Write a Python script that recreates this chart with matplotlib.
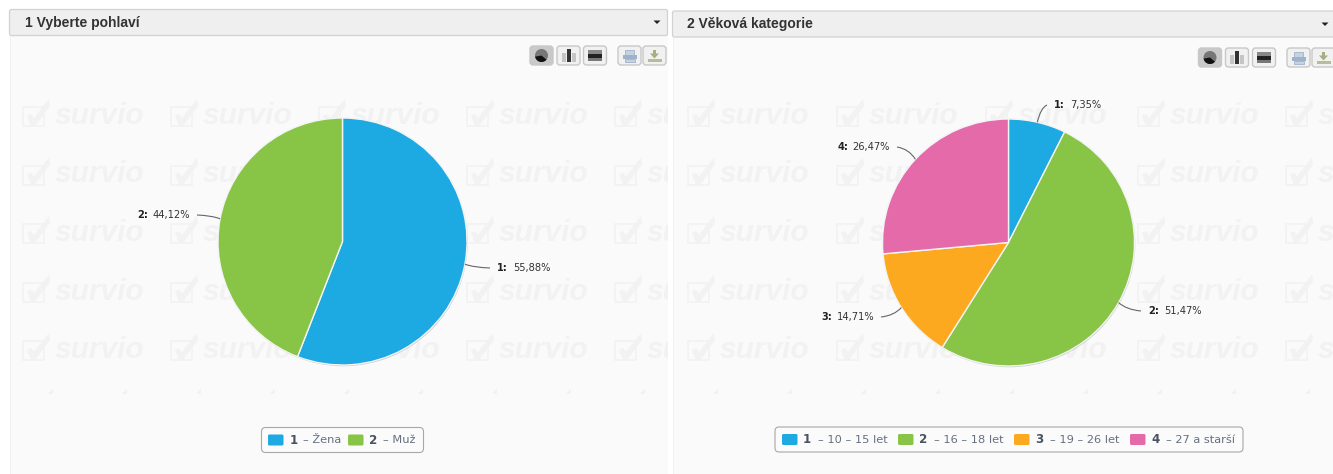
import matplotlib
matplotlib.use("Agg")
import matplotlib.pyplot as plt
from matplotlib.patches import Rectangle, FancyBboxPatch, Circle, Wedge, Polygon
from matplotlib.path import Path
from matplotlib.patches import PathPatch
import numpy as np

W, H = 1333, 474

# ---- data ----
titles = ["1 Vyberte pohlaví", "2 Věková kategorie"]
gender_values = [55.88, 44.12]
gender_labels = ["Žena", "Muž"]
age_values = [7.35, 51.47, 14.71, 26.47]
age_labels = ["10 – 15 let", "16 – 18 let", "19 – 26 let", "27 a starší"]
colors = ["#1DA9E1", "#88C546", "#FCA91F", "#E56AAA"]

fig = plt.figure(figsize=(W / 100, H / 100), dpi=100, facecolor="#ffffff")
bg = fig.add_axes([0, 0, 1, 1])
bg.set_xlim(0, W)
bg.set_ylim(H, 0)
bg.axis("off")

LATIN = "Liberation Sans"
VERD = "DejaVu Sans"
WM = "#f2f2f2"


def panel(x0, x1, head_top, head_bot, title, title_x):
    body = Rectangle((x0, head_bot), x1 - x0, H - head_bot, fc="#fafafa", ec="none", zorder=0)
    bg.add_patch(body)
    bg.plot([x0, x0], [head_bot, H], color="#f1f1f1", lw=0.8, zorder=0.5)
    head = FancyBboxPatch((x0, head_top), x1 - x0 + (6 if x1 >= W else 0), head_bot - head_top,
                          boxstyle="round,pad=0,rounding_size=2", fc="#efefef", ec="#d2d2d2", lw=0.9, zorder=3)
    bg.add_patch(head)
    bg.text(title_x, (head_top + head_bot) / 2 + 0.3, title, fontsize=10, fontweight="bold",
            family=LATIN, color="#333333", va="center", ha="left", zorder=4)
    return body


def watermarks(body, xs, ys):
    for y in ys:
        for x in xs:
            box = Rectangle((x + 1, y - 8), 21, 19, fc="none", ec=WM, lw=1.2, zorder=1)
            tick = Polygon([(x + 5, y + 1), (x + 9, y - 1), (x + 12, y + 3), (x + 27, y - 16),
                            (x + 28, y - 9), (x + 13, y + 11), (x + 9, y + 11)],
                           closed=True, fc=WM, ec="none", zorder=1)
            for p in (box, tick):
                bg.add_patch(p)
                p.set_clip_path(body)
            t = bg.text(x + 33, y + 1, "survio", fontsize=21.5, family=LATIN, fontweight="bold",
                        style="italic", color=WM, va="center", ha="left", zorder=1, clip_on=True)
            t.set_clip_path(body)


def faint_row(body, xs, y):
    for x in xs:
        t = bg.text(x, y, "◢", fontsize=4.5, family="DejaVu Sans", color="#f0f0f0",
                    ha="center", va="center", zorder=1, clip_on=True)
        t.set_clip_path(body)


def button(x, y, w=23, h=19, active=False, kind="pie"):
    bg.add_patch(FancyBboxPatch((x, y), w, h, boxstyle="round,pad=0,rounding_size=3",
                                fc="#c9c9c9" if active else "#f1f1f1", ec="#c8c8c8", lw=1, zorder=2))
    cx, cy = x + w / 2, y + h / 2
    if kind == "pie":
        bg.add_patch(Circle((cx, cy), 6.5, fc="#777777", ec="none", zorder=3))
        bg.add_patch(Wedge((cx, cy), 6.5, 40, 170, fc="#111111", ec="none", zorder=3))
    elif kind == "bar":
        bg.add_patch(Rectangle((cx - 7, cy - 3), 4, 9, fc="#c5c5c5", zorder=3))
        bg.add_patch(Rectangle((cx - 2, cy - 7), 4, 13, fc="#333333", zorder=3))
        bg.add_patch(Rectangle((cx + 3, cy - 3), 4, 9, fc="#c5c5c5", zorder=3))
    elif kind == "hbar":
        bg.add_patch(Rectangle((cx - 7, cy - 5.5), 14, 3.5, fc="#888888", zorder=3))
        bg.add_patch(Rectangle((cx - 7, cy - 1.5), 14, 3.5, fc="#222222", zorder=3))
        bg.add_patch(Rectangle((cx - 7, cy + 2.5), 14, 3, fc="#777777", zorder=3))
    elif kind == "print":
        bg.add_patch(Rectangle((cx - 4.5, cy - 6), 9, 5, fc="#c5d2e2", ec="#9fb2cc", lw=0.6, zorder=3))
        bg.add_patch(Rectangle((cx - 7, cy - 1), 14, 4, fc="#9fb2cc", zorder=3))
        bg.add_patch(Rectangle((cx - 5, cy + 3), 10, 3, fc="#c5d2e2", ec="#9fb2cc", lw=0.6, zorder=3))
    else:
        bg.add_patch(Rectangle((cx - 1.5, cy - 6), 3, 5, fc="#a9ad82", zorder=3))
        bg.add_patch(PathPatch(Path([(cx - 4.5, cy - 2), (cx + 4.5, cy - 2), (cx, cy + 3), (cx - 4.5, cy - 2)]),
                               fc="#a9ad82", ec="none", zorder=3))
        bg.add_patch(Rectangle((cx - 7, cy + 3), 14, 3, fc="#b9bc98", zorder=3))


def caret(x, y):
    bg.add_patch(PathPatch(Path([(x - 3.5, y - 1.5), (x + 3.5, y - 1.5), (x, y + 2), (x - 3.5, y - 1.5)]),
                           fc="#222222", ec="none", zorder=5))


def pie(values, cx, cy, rx, ry, cols):
    pad = 1.1
    sx, sy = rx * pad, ry * pad
    ax = fig.add_axes([(cx - sx) / W, 1 - (cy + sy) / H, 2 * sx / W, 2 * sy / H], zorder=2)
    ax.patch.set_alpha(0)
    ax.add_patch(Circle((0.006, -0.01), 1.0, fc="#cdcdcd", ec="none", zorder=0))
    ax.pie(values, colors=cols, startangle=90, counterclock=False, radius=1,
           wedgeprops=dict(edgecolor="#f4f4f4", linewidth=1.0))
    ax.set_aspect("auto")
    ax.set_xlim(-pad, pad)
    ax.set_ylim(-pad, pad)
    ax.axis("off")
    return ax


def leaders(values, cx, cy, rx, ry, ends, side):
    cum = np.cumsum(values)
    mids = (cum - np.asarray(values) / 2) / 100 * 2 * np.pi
    for i, (m, e) in enumerate(zip(mids, ends)):
        sx, sy = cx + rx * np.sin(m), cy - ry * np.cos(m)
        ctrl = (sx + (e[0] - sx) * 0.35, sy + (e[1] - sy) * 0.85)
        path = Path([(sx, sy), ctrl, e], [Path.MOVETO, Path.CURVE3, Path.CURVE3])
        fig.add_artist(PathPatch(path, fc="none", ec="#666666", lw=0.8,
                                 transform=bg.transData, zorder=4))
        s = f"{values[i]:.2f}".replace(".", ",") + "%"
        if side[i] > 0:
            x = e[0] + 7
            bg.text(x, e[1], f"{i + 1}:", fontsize=7.1, fontweight="bold", family=VERD, color="#222222",
                    ha="left", va="center", zorder=6)
            bg.text(x + 16, e[1], s, fontsize=7.1, family=VERD, color="#333333",
                    ha="left", va="center", zorder=6)
        else:
            x = e[0] - 7
            bg.text(x, e[1], s, fontsize=7.1, family=VERD, color="#333333",
                    ha="right", va="center", zorder=6)
            bg.text(x - 42, e[1], f"{i + 1}:", fontsize=7.1, fontweight="bold", family=VERD,
                    color="#222222", ha="right", va="center", zorder=6)


def legend(x0, x1, y0, y1, entries, swatch_xs, num_xs, text_xs):
    bg.add_patch(FancyBboxPatch((x0, y0), x1 - x0, y1 - y0, boxstyle="round,pad=0,rounding_size=4",
                                fc="#fbfbfb", ec="#a8a8a8", lw=0.8, zorder=2))
    ym = (y0 + y1) / 2
    for i, name in enumerate(entries):
        bg.add_patch(FancyBboxPatch((swatch_xs[i], ym - 5.5), 15.5, 11, boxstyle="round,pad=0,rounding_size=1.5",
                                    fc=colors[i], ec="none", zorder=3))
        bg.text(num_xs[i], ym + 0.3, str(i + 1), fontsize=8.6, fontweight="bold", family=VERD,
                color="#4a5361", ha="left", va="center", zorder=3)
        bg.text(text_xs[i], ym + 0.3, "– " + name, fontsize=8.2, family=VERD,
                color="#667080", ha="left", va="center", zorder=3)


body1 = panel(9.5, 667.5, 9.5, 35.5, titles[0], 25)
body2 = panel(672.5, W, 11, 37, titles[1], 687)

row_ys = [115, 173.5, 232, 290.5, 349]
watermarks(body1, [22, 170, 318, 466, 614], row_ys)
watermarks(body2, [687, 836, 985, 1137, 1285], row_ys)
faint_row(body1, np.arange(50, 667, 74), 392)
faint_row(body2, np.arange(715, W, 74), 392)

caret(657, 22)
caret(1325, 24)

for x, kind, act in zip([530, 557, 583.5, 618, 643], ["pie", "bar", "hbar", "print", "down"],
                        [True, False, False, False, False]):
    button(x, 46, active=act, kind=kind)
for x, kind, act in zip([1198.5, 1225.5, 1252.5, 1287, 1312], ["pie", "bar", "hbar", "print", "down"],
                        [True, False, False, False, False]):
    button(x, 48, active=act, kind=kind)

pie(gender_values, 342.5, 241.5, 124.5, 123.5, colors[:2])
pie(age_values, 1008.5, 242.5, 126, 123.5, colors)

leaders(gender_values, 342.5, 241.5, 124.5, 123.5, [(490, 268), (197, 215)], [1, -1])
leaders(age_values, 1008.5, 242.5, 126, 123.5, [(1047, 105), (1141, 311), (881, 317), (897, 147)], [1, 1, -1, -1])

legend(261.5, 423.5, 427.5, 452.5, gender_labels, [268, 348], [290, 369], [303, 383])
legend(775, 1243, 427, 452, age_labels, [782, 898, 1014, 1130], [803, 919, 1035, 1151], [818, 934, 1050, 1166])

fig.savefig("out.png", dpi=100, facecolor=fig.get_facecolor())
